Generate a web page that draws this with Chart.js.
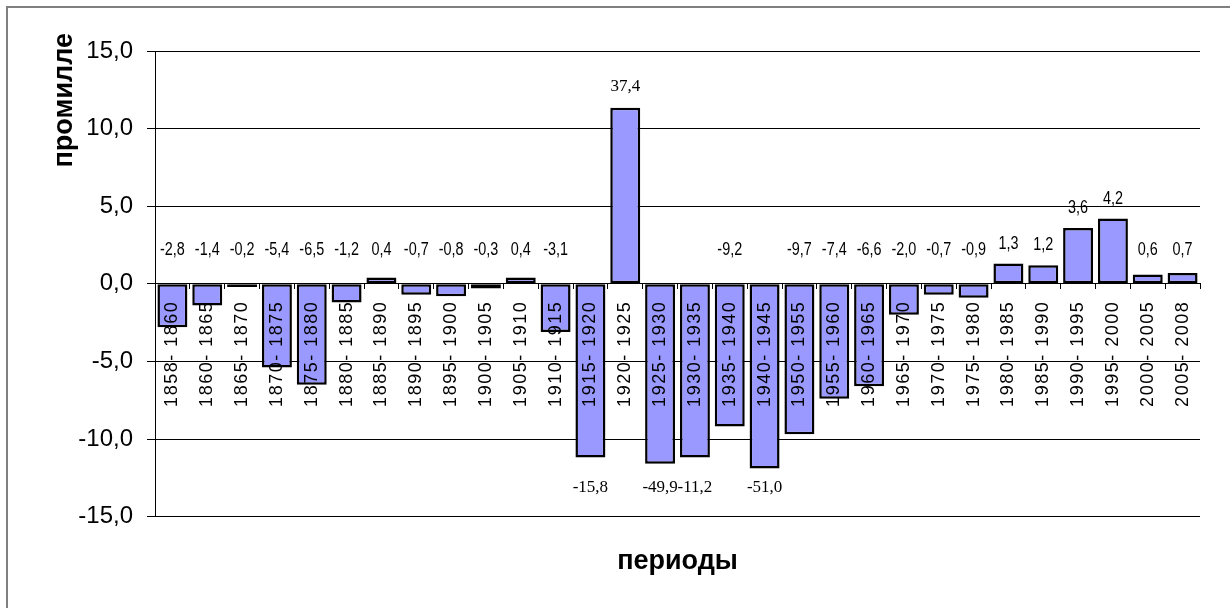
<!DOCTYPE html>
<html>
<head>
<meta charset="utf-8">
<script src="https://cdn.jsdelivr.net/npm/chart.js@4"></script>
<style>
html,body{margin:0;padding:0;background:#fff;}
#wrap{width:1230px;height:608px;position:relative;}
</style>
</head>
<body>
<div id="wrap"><canvas id="c"></canvas></div>
<script>
// ---- data ----
const categories = ['1858- 1860','1860- 1865','1865- 1870','1870- 1875','1875- 1880','1880- 1885','1885- 1890','1890- 1895','1895- 1900','1900- 1905','1905- 1910','1910- 1915','1915- 1920','1920- 1925','1925- 1930','1930- 1935','1935- 1940','1940- 1945','1950- 1955','1955- 1960','1960- 1965','1965- 1970','1970- 1975','1975- 1980','1980- 1985','1985- 1990','1990- 1995','1995- 2000','2000- 2005','2005- 2008'];
// bar heights as drawn (off-scale values are cut short in the original)
const barValues = [-2.8,-1.4,-0.2,-5.4,-6.5,-1.2,0.4,-0.7,-0.8,-0.3,0.4,-3.1,-11.2,11.35,-11.6,-11.2,-9.2,-11.9,-9.7,-7.4,-6.6,-2.0,-0.7,-0.9,1.3,1.2,3.6,4.2,0.6,0.7];
// value labels as printed
const valueLabels = ['-2,8','-1,4','-0,2','-5,4','-6,5','-1,2','0,4','-0,7','-0,8','-0,3','0,4','-3,1','-15,8','37,4','-49,9','-11,2','-9,2','-51,0','-9,7','-7,4','-6,6','-2,0','-0,7','-0,9','1,3','1,2','3,6','4,2','0,6','0,7'];
const yMin = -15;
const yMax = 15;
const yStep = 5;
const yTitle = 'промилле';
const xTitle = 'периоды';

const SANS = "'Liberation Sans', Arial, sans-serif";
const SERIF = "'Liberation Serif', 'Times New Roman', serif";

const framePlugin = {
  id: 'frame',
  beforeDraw(chart) {
    const ctx = chart.ctx;
    ctx.save();
    ctx.fillStyle = '#fff';
    ctx.fillRect(0, 0, chart.width, chart.height);
    ctx.strokeStyle = '#808080';
    ctx.lineWidth = 2;
    ctx.strokeRect(7, 7, 1300, 700);
    ctx.restore();
  },
  afterDatasetsDraw(chart) {
    chart.ctx.letterSpacing = '1.5px';
  },
  afterDraw(chart) {
    const ctx = chart.ctx;
    ctx.letterSpacing = '0px';
    const xs = chart.scales.x, ys = chart.scales.y;
    const zero = ys.getPixelForValue(0);
    ctx.fillStyle = '#000';
    ctx.textAlign = 'center';
    ctx.textBaseline = 'middle';
    barValues.forEach((v, i) => {
      const x = xs.getPixelForValue(i);
      ctx.save();
      if (v < -10) {
        ctx.font = '17px ' + SERIF;
        ctx.fillText(valueLabels[i], x, ys.getPixelForValue(-13.1));
      } else if (v > 10) {
        ctx.font = '17px ' + SERIF;
        ctx.fillText(valueLabels[i], x, ys.getPixelForValue(v) - 21);
      } else {
        const y = Math.min(zero - 34, ys.getPixelForValue(Math.max(v, 0)) - 20);
        ctx.font = '18px ' + SANS;
        ctx.translate(x, y);
        ctx.scale(0.8, 1);
        ctx.fillText(valueLabels[i], 0, 0);
      }
      ctx.restore();
    });
    // y axis title
    ctx.save();
    ctx.font = 'bold 27px ' + SANS;
    ctx.translate(72, ys.top - 18);
    ctx.rotate(-Math.PI / 2);
    ctx.textAlign = 'right';
    ctx.textBaseline = 'alphabetic';
    ctx.fillText(yTitle, 0, 0);
    ctx.restore();
  }
};

new Chart(document.getElementById('c'), {
  type: 'bar',
  data: {
    labels: categories,
    datasets: [{
      data: barValues,
      backgroundColor: '#9999FF',
      borderColor: '#000',
      borderWidth: 2.5,
      borderSkipped: false,
      barPercentage: 0.86,
      categoryPercentage: 1.0,
      xAxisID: 'x',
      yAxisID: 'y'
    }]
  },
  options: {
    responsive: true,
    maintainAspectRatio: false,
    animation: false,
    layout: { padding: { top: 51, right: 30, bottom: 0, left: 0 } },
    plugins: { legend: { display: false }, tooltip: { enabled: false } },
    scales: {
      x: {
        type: 'category',
        position: { y: 0 },
        offset: true,
        grid: { display: true, drawOnChartArea: false, drawTicks: true, tickLength: 5, color: '#000', offset: true },
        border: { display: true, color: '#000', width: 1 },
        ticks: { autoSkip: false, minRotation: 90, maxRotation: 90, padding: 12, color: '#000', z: 1,
                 font: { family: SANS, size: 18 } }
      },
      xb: {
        type: 'category',
        position: 'bottom',
        labels: categories,
        offset: true,
        grid: { display: false, drawTicks: false },
        border: { display: false },
        ticks: { display: false },
        title: { display: true, text: xTitle, color: '#000',
                 font: { family: SANS, size: 27, weight: 'bold', lineHeight: 1.2 },
                 padding: { top: 29, bottom: 30 } }
      },
      y: {
        position: 'left',
        min: yMin,
        max: yMax,
        afterFit: (s) => { s.width = 155; },
        grid: { color: '#000', lineWidth: 1, drawTicks: true, tickLength: 8 },
        border: { display: true, color: '#000', width: 1 },
        ticks: { stepSize: yStep, padding: 14, color: '#000',
                 font: { family: SANS, size: 24 },
                 callback: (v) => Number(v).toFixed(1).replace('.', ',') }
      }
    }
  },
  plugins: [framePlugin]
});
</script>
</body>
</html>
